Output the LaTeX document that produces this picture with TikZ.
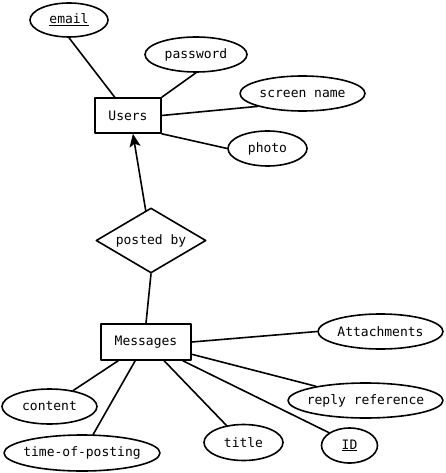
\documentclass[tikz,border=0pt]{standalone}
\usepackage{fontspec}
\setmonofont{DejaVu Sans Mono}
\usetikzlibrary{shapes.geometric,arrows.meta}
\begin{document}
\begin{tikzpicture}[>={Stealth[length=13pt,width=11pt,inset=3pt]},line join=round,line cap=round,x=1pt,y=-1pt,line width=1.6pt,
	font=\ttfamily\fontsize{13}{15}\selectfont,
	entity/.style={draw,rectangle,inner sep=0pt},
	attr/.style={draw,ellipse,inner sep=0pt,inner xsep=-6pt,minimum height=35pt},
	rel/.style={draw,diamond,aspect=1.7,inner sep=0pt,minimum width=110pt,minimum height=65pt}]
	\useasboundingbox (0,0) rectangle (445,473);
	%Users
	\node[entity,minimum width=66pt,minimum height=35pt] (users) at (128,115.5) {Users};
	\node[attr,minimum width=78pt,minimum height=34pt] (email) at (69,20) {\underline{email}};
	\node[attr,minimum width=102pt] (password) at (196,54.5) {password};
	\node[attr,minimum width=125pt] (screen) at (302.5,93.5) {screen name};
	\node[attr,minimum width=79pt] (photo) at (267.5,148.5) {photo};
	\draw (email.south)--(users.126);
	\draw (password.south)--(users.north east);
	\draw (screen.196)--(users.east);
	\draw (photo.west)--(users.south east);
	%posted by
	\node[rel] (posted) at (151,240.5) {posted by};
	\draw[->] (posted.100)--(users.-75);
	%Messages
	\node[entity,minimum width=90pt,minimum height=36pt] (messages) at (146,342) {Messages};
	\node[attr,minimum width=125pt] (attach) at (380.5,331.5) {Attachments};
	\node[attr,minimum width=95pt] (content) at (49.5,406.5) {content};
	\node[attr,minimum width=156pt,minimum height=36pt] (posting) at (82,453) {time-of-posting};
	\node[attr,minimum width=79pt,minimum height=36pt] (title) at (243.5,442.5) {title};
	\node[attr,minimum width=155pt] (reply) at (365.5,400.5) {reply reference};
	\node[attr,minimum width=56pt] (id) at (349.5,445.5) {\underline{ID}};
	\draw (posted.south)--(messages.north);
	\draw (messages.east)--(attach.west);
	\draw (messages.-15)--(reply.164);
	\draw (messages.-27)--(id.148);
	\draw (messages.-46)--(title.135);
	\draw (messages.240)--(posting.59);
	\draw (messages.214)--(content.34);
\end{tikzpicture}
\end{document}
